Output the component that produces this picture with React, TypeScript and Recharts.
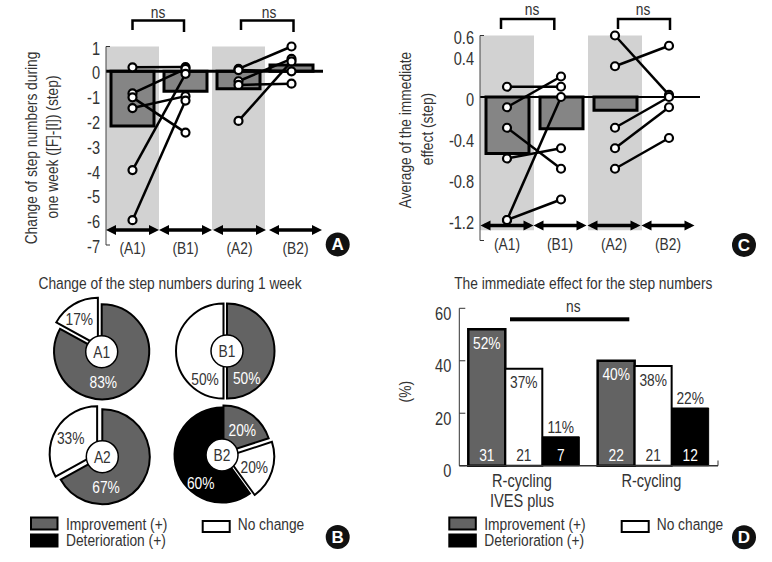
import React from 'react';
import {
  ComposedChart, BarChart, PieChart, Pie, Bar, Line, XAxis, YAxis,
  ReferenceArea, ReferenceLine, LabelList, Sector,
} from 'recharts';

// ---------- data ----------
const phases = ['(A1)', '(B1)', '(A2)', '(B2)'];

const stepChangeMeans = [-2.2, -0.8, -0.7, 0.25];
const stepA1 = [0.16, -0.89, -1.05, -1.48, -3.98, -6.0];
const stepB1 = [0.17, 0.1, -2.47, -1.0, -0.1, -1.18];
const stepA2 = [0.1, -0.4, -0.55, 0.05, -2.0];
const stepB2 = [1.0, 0.5, -0.5, 0.0, 0.4];
const stepTicks = [1, 0, -1, -2, -3, -4, -5, -6, -7];

const immediateMeans = [-0.55, -0.31, -0.13, null];
const immA1 = [0.1, -0.1, -0.3, -0.6, -1.2, -1.2];
const immB1 = [0.1, 0.2, -0.7, -0.5, 0.0, -1.0];
const immA2 = [0.6, 0.3, -0.3, -0.5, -0.7];
const immB2 = [0.02, 0.5, 0.0, -0.1, -0.4];
const immTicks = [0.6, 0.4, 0, -0.4, -0.8, -1.2];

const outcomeNames = ['Improvement (+)', 'No change', 'Deterioration (+)'];
const shareA1 = [83, 17, 0];
const shareB1 = [50, 50, 0];
const shareA2 = [67, 33, 0];
const shareB2 = [20, 20, 60];

const groups = ['R-cycling\nIVES plus', 'R-cycling'];
const pctImprovement = [52, 40];
const pctNoChange = [37, 38];
const pctDeterioration = [11, 22];
const countImprovement = [31, 22];
const countNoChange = [21, 21];
const countDeterioration = [7, 12];
const pctTicks = [60, 40, 20, 0];

// ---------- tables ----------
function pairedTable(means: (number | null)[], a: number[], b: number[], c: number[], d: number[]) {
  return phases.map((phase, i) => {
    const row: Record<string, any> = { phase, mean: means[i] };
    [a, b].forEach((list, k) => { if (k === i) list.forEach((v, j) => { row['first' + j] = v; }); });
    [c, d].forEach((list, k) => { if (k + 2 === i) list.forEach((v, j) => { row['second' + j] = v; }); });
    return row;
  });
}
const stepTable = pairedTable(stepChangeMeans, stepA1, stepB1, stepA2, stepB2);
const immTable = pairedTable(immediateMeans, immA1, immB1, immA2, immB2);
const pctTable = groups.map((group, i) => ({
  group,
  imp: pctImprovement[i], same: pctNoChange[i], det: pctDeterioration[i],
  nImp: countImprovement[i], nSame: countNoChange[i], nDet: countDeterioration[i],
}));

// ---------- style ----------
const FONT = "'Liberation Sans', sans-serif";
const INK = '#333333';
const DARK = '#636363';
const OUTCOME_FILL = [DARK, '#ffffff', '#000000'];
const SIZE = 17;
const NARROW = 0.81;

function T({ x, y, children, fill = INK, size = SIZE, anchor = 'middle', rotate = 0 }: any) {
  return (
    <text x={0} y={0} fill={fill} fontSize={size} fontFamily={FONT} textAnchor={anchor} dominantBaseline="central"
      transform={`translate(${x} ${y}) rotate(${rotate}) scale(${NARROW} 1)`}>{children}</text>
  );
}

const phaseTick = (nudges: number[]) => ({ x, y, payload, index }: any) => {
  const h = 26.5;
  const cx = x + (nudges[index] || 0);
  return (
    <g>
      <line x1={cx - h + 4} x2={cx + h - 4} y1={y - 15} y2={y - 15} stroke="#000" strokeWidth={3.5} />
      <polygon points={`${cx - h},${y - 15} ${cx - h + 10},${y - 20} ${cx - h + 10},${y - 10}`} fill="#000" />
      <polygon points={`${cx + h},${y - 15} ${cx + h - 10},${y - 20} ${cx + h - 10},${y - 10}`} fill="#000" />
      <T x={cx} y={y + 3}>{payload.value}</T>
    </g>
  );
};

const valueTick = (first: number, last: number, dy: number) => ({ x, y, payload }: any) => (
  <g>
    {(payload.value === first || payload.value === last) && <line x1={x} x2={x + 4} y1={y} y2={y} stroke="#333" strokeWidth={1} />}
    <T x={x - 6} y={y + dy} anchor="end" size={18}>{String(payload.value)}</T>
  </g>
);

function PctTick({ x, y, payload }: any) {
  return (
    <g>
      <line x1={x} x2={x + 6} y1={y} y2={y} stroke="#333" strokeWidth={1} />
      <T x={x - 8} y={y + 5} anchor="end" size={18}>{String(payload.value)}</T>
    </g>
  );
}

function GroupTick({ x, y, payload }: any) {
  const lines = String(payload.value).split('\n');
  return (
    <g>
      {lines.map((s, i) => <T key={i} x={x - 2} y={y + 15 + i * 20} size={18}>{s}</T>)}
    </g>
  );
}

const dot = { r: 4, fill: '#fff', stroke: '#000', strokeWidth: 2.2 };

function PairedPanel({ left, top, width, height, margin, table, domain, ticks, bandBottom, firstN, secondN, tickFn, zeroWidth, padRight, nudges }: any) {
  return (
    <div style={{ position: 'absolute', left, top }}>
      <ComposedChart width={width} height={height} data={table} margin={margin}>
        <ReferenceArea x1="(A1)" x2="(A1)" y1={domain[1]} y2={bandBottom} fill="#d2d2d2" fillOpacity={1} stroke="none" />
        <ReferenceArea x1="(A2)" x2="(A2)" y1={domain[1]} y2={bandBottom} fill="#d2d2d2" fillOpacity={1} stroke="none" />
        <XAxis dataKey="phase" height={1} padding={{ left: 0, right: padRight }} axisLine={false} tickLine={false} tickSize={0} tickMargin={0} interval={0} tick={phaseTick(nudges)} />
        <YAxis type="number" width={margin.yw} domain={domain} ticks={ticks} interval={0} tickLine={false} tickSize={0} tickMargin={0}
          axisLine={{ stroke: '#444', strokeWidth: 1 }} tick={tickFn} />
        <Bar dataKey="mean" barSize={43} fill="#858585" stroke="#000" strokeWidth={3} isAnimationActive={false} />
        <ReferenceLine y={0} stroke="#000" strokeWidth={zeroWidth} />
        {Array.from({ length: firstN }, (_, j) => (
          <Line key={'f' + j} dataKey={'first' + j} stroke="#000" strokeWidth={2.5} dot={dot} activeDot={false} isAnimationActive={false} />
        ))}
        {Array.from({ length: secondN }, (_, j) => (
          <Line key={'s' + j} dataKey={'second' + j} stroke="#000" strokeWidth={2.5} dot={dot} activeDot={false} isAnimationActive={false} />
        ))}
      </ComposedChart>
    </div>
  );
}

const explodedSector = (gaps: number[]) => (props: any) => {
  const idx = outcomeNames.indexOf(props.payload?.name ?? props.name);
  const d = gaps[idx] || 0;
  const rad = (props.midAngle * Math.PI) / 180;
  return <Sector {...props} cx={props.cx + d * Math.cos(rad)} cy={props.cy - d * Math.sin(rad)} />;
};

const pieRows = (shares: number[]) =>
  shares.map((value, i) => ({ name: outcomeNames[i], value, fill: OUTCOME_FILL[i] })).filter((r) => r.value > 0);

function SharePie({ cx, cy, shares, gaps }: any) {
  return (
    <Pie data={pieRows(shares)} dataKey="value" nameKey="name" cx={cx} cy={cy} innerRadius={0} outerRadius={47.5}
      startAngle={90} endAngle={-270} stroke="#000" strokeWidth={2} isAnimationActive={false} labelLine={false}
      shape={explodedSector(gaps)} />
  );
}

function LegendBlock({ x, whiteX }: any) {
  return (
    <g>
      <rect x={x + 1} y={517.5} width={26.5} height={12} fill={DARK} stroke="#000" strokeWidth={2} />
      <T x={x + 36} y={524} anchor="start">{outcomeNames[0]}</T>
      <rect x={x} y={533.5} width={28.5} height={14} fill="#000" />
      <T x={x + 36} y={540} anchor="start">{outcomeNames[2]}</T>
      <rect x={whiteX + 1} y={521} width={27} height={11} fill="#fff" stroke="#000" strokeWidth={2} />
      <T x={whiteX + 36} y={524} anchor="start">{outcomeNames[1]}</T>
    </g>
  );
}

function Badge({ x, y, letter }: any) {
  return (
    <g>
      <circle cx={x} cy={y} r={12} fill="#111" />
      <text x={x} y={y} fill="#fff" fontSize={17} fontWeight="bold" fontFamily={FONT} textAnchor="middle" dominantBaseline="central">{letter}</text>
    </g>
  );
}

function Bracket({ x1, x2, y, yl, yr }: any) {
  return <path d={`M${x1} ${yl}V${y}H${x2}V${yr}`} fill="none" stroke="#000" strokeWidth={2.5} />;
}

function Hub({ x, y, label }: any) {
  return (
    <g>
      <circle cx={x} cy={y} r={16} fill="#fff" stroke="#000" strokeWidth={1.5} />
      <T x={x} y={y}>{label}</T>
    </g>
  );
}

const insideTopPct = (fill: string) => ({ x, y, width, value }: any) => (
  <T x={x + width / 2} y={y + 13.5} fill={fill}>{`${value}%`}</T>
);
const abovePct = ({ x, y, width, value }: any) => (
  <T x={x + width / 2} y={y - 10}>{`${value}%`}</T>
);
const bottomCount = (fill: string) => ({ x, y, width, height, value }: any) => (
  <T x={x + width / 2} y={y + height - 10.5} fill={fill}>{value}</T>
);

export default function App() {
  return (
    <div style={{ position: 'absolute', left: 0, top: 0, width: 772, height: 562, background: '#fff', overflow: 'hidden' }}>
      <PairedPanel left={0} top={0} width={380} height={265} table={stepTable}
        margin={{ top: 46.5, right: 57, bottom: 19, left: 0, yw: 106 }} padRight={5} nudges={[0, 0, 1, 4]}
        domain={[-7, 1]} ticks={stepTicks} bandBottom={-6.4} firstN={6} secondN={5}
        tickFn={valueTick(1, -7, 1.5)} zeroWidth={3} />
      <PairedPanel left={390} top={0} width={382} height={265} table={immTable}
        margin={{ top: 35.5, right: 72, bottom: 23.5, left: 0, yw: 90 }} padRight={4} nudges={[0, -1, -1, -1]}
        domain={[-1.4, 0.6]} ticks={immTicks} bandBottom={-1.3} firstN={6} secondN={5}
        tickFn={valueTick(0.6, -9, 2)} zeroWidth={2} />

      <div style={{ position: 'absolute', left: 0, top: 290 }}>
        <PieChart width={340} height={220} margin={{ top: 0, right: 0, bottom: 0, left: 0 }}>
          {SharePie({ cx: 101.7, cy: 61.7, shares: shareA1, gaps: [0, 7.5, 0] })}
          {SharePie({ cx: 227, cy: 61, shares: shareB1, gaps: [0, 3.5, 0] })}
          {SharePie({ cx: 102.3, cy: 166.7, shares: shareA2, gaps: [0, 6, 0] })}
          {SharePie({ cx: 222, cy: 165, shares: shareB2, gaps: [2.5, 5, 0] })}
        </PieChart>
      </div>

      <div style={{ position: 'absolute', left: 390, top: 290 }}>
        <BarChart width={382} height={230} data={pctTable} barGap={0} barCategoryGap={0}
          margin={{ top: 18.3, right: 54, bottom: 53.3, left: 0 }}>
          <XAxis dataKey="group" height={1} interval={0} tickSize={0} tickMargin={0} tickLine={false}
            axisLine={{ stroke: '#333', strokeWidth: 1.5 }} tick={GroupTick} />
          <YAxis type="number" width={69.3} domain={[0, 60]} ticks={pctTicks} interval={0} tickLine={false} tickSize={0} tickMargin={0}
            axisLine={{ stroke: '#333', strokeWidth: 1 }} tick={PctTick} />
          <Bar dataKey="imp" barSize={37} fill={DARK} stroke="#000" strokeWidth={2.5} isAnimationActive={false}>
            <LabelList dataKey="imp" content={insideTopPct('#fff')} />
            <LabelList dataKey="nImp" content={bottomCount('#fff')} />
          </Bar>
          <Bar dataKey="same" barSize={37} fill="#fff" stroke="#000" strokeWidth={2} isAnimationActive={false}>
            <LabelList dataKey="same" content={insideTopPct(INK)} />
            <LabelList dataKey="nSame" content={bottomCount(INK)} />
          </Bar>
          <Bar dataKey="det" barSize={37} fill="#000" stroke="#000" strokeWidth={1} isAnimationActive={false}>
            <LabelList dataKey="det" content={abovePct} />
            <LabelList dataKey="nDet" content={bottomCount('#fff')} />
          </Bar>
        </BarChart>
      </div>

      <svg width={772} height={562} style={{ position: 'absolute', left: 0, top: 0, pointerEvents: 'none' }}>
        <T x={31} y={148} rotate={-90}>Change of step numbers during</T>
        <T x={52} y={147} rotate={-90}>one week ([F]-[I]) (step)</T>
        <T x={404.7} y={130} rotate={-90}>Average of the immediate</T>
        <T x={427} y={129} rotate={-90}>effect (step)</T>
        <T x={405} y={391.7} rotate={-90}>(%)</T>

        <T x={158} y={11.5}>ns</T>
        <Bracket x1={132.5} x2={184} y={20.5} yl={30} yr={32} />
        <T x={269} y={11.5}>ns</T>
        <Bracket x1={241} x2={293.5} y={20.5} yl={30} yr={32} />
        <T x={532} y={8.5}>ns</T>
        <Bracket x1={501} x2={554.3} y={19} yl={29} yr={30} />
        <T x={643} y={8.5}>ns</T>
        <Bracket x1={618} x2={670} y={19} yl={29} yr={30} />

        <T x={170} y={282.5}>Change of the step numbers during 1 week</T>
        <T x={583.3} y={282.5}>The immediate effect for the step numbers</T>
        <T x={573.3} y={306}>ns</T>
        <rect x={510} y={317.3} width={119.3} height={4} fill="#000" />
        <line x1={718} x2={718} y1={460.5} y2={465.7} stroke="#333" strokeWidth={1} />
        <line x1={480} x2={484} y1={240.5} y2={240.5} stroke="#333" strokeWidth={1} />

        <Hub x={101.7} y={351.7} label="A1" />
        <Hub x={227} y={351} label="B1" />
        <Hub x={102.3} y={456.7} label="A2" />
        <Hub x={222} y={455} label="B2" />
        <T x={79.3} y={319}>17%</T>
        <T x={103.3} y={382.3} fill="#fff">83%</T>
        <T x={205} y={379}>50%</T>
        <T x={246.7} y={378.3} fill="#fff">50%</T>
        <T x={70.7} y={437.7}>33%</T>
        <T x={106} y={487.3} fill="#fff">67%</T>
        <T x={242.3} y={430} fill="#fff">20%</T>
        <T x={254.3} y={466.7}>20%</T>
        <T x={200.7} y={483.3} fill="#fff">60%</T>

        <LegendBlock x={30} whiteX={201.7} />
        <LegendBlock x={448.3} whiteX={620.7} />

        <Badge x={337.7} y={244.5} letter="A" />
        <Badge x={744} y={245} letter="C" />
        <Badge x={337.7} y={537} letter="B" />
        <Badge x={744} y={537.3} letter="D" />
      </svg>
    </div>
  );
}
